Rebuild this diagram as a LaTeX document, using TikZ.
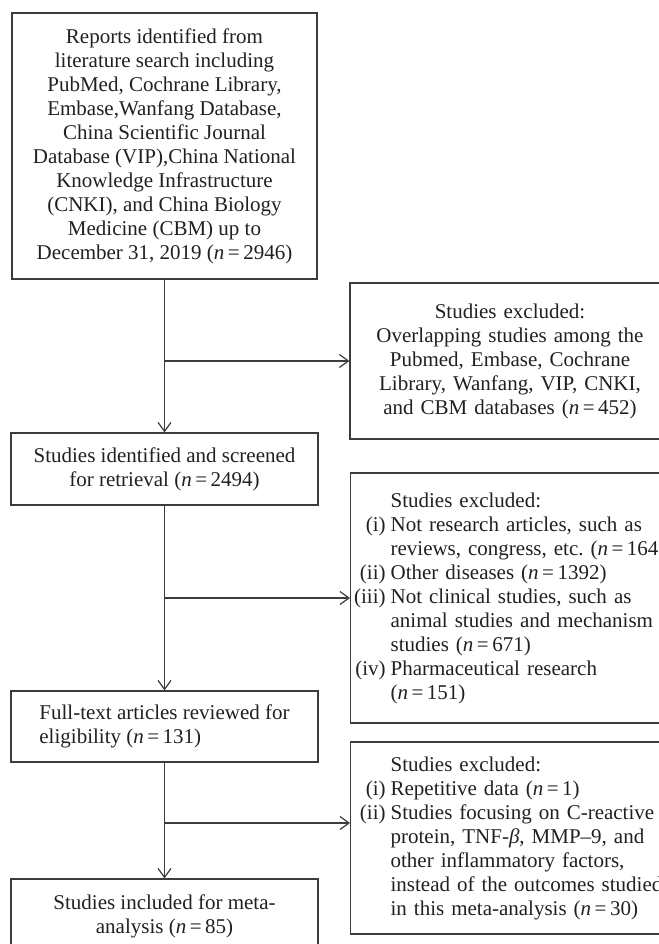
\documentclass[tikz,border=0pt]{standalone}
\usepackage{fontspec}
\setmainfont{Liberation Serif}
\usetikzlibrary{arrows.meta}
\definecolor{linec}{RGB}{60,60,60}
\definecolor{txt}{RGB}{35,31,32}
\newcommand\fsz{\fontsize{21}{24}\selectfont}
\newcommand\itm[1]{\makebox[34pt][r]{#1}\hspace{5pt}}
\newcommand\cnt{\hspace*{39pt}}
\newcommand\nn[1]{(\textit{n}\,=\,#1)}
\begin{document}
\begin{tikzpicture}[x=1pt,y=-1pt,
  box/.style={draw=linec, line width=1.2pt, inner xsep=1pt, inner ysep=0pt, font=\fsz, text=txt},
  arr/.style={draw=linec, line width=1.2pt, -{Straight Barb[length=9pt,width=13pt]}}]
\useasboundingbox (0,0) rectangle (658,944);
\node[box, minimum width=305pt, minimum height=266pt, align=center] (A) at (164.5,146)
 {Reports identified from\\literature search including\\PubMed, Cochrane Library,\\Embase,Wanfang Database,\\China Scientific Journal\\Database (VIP),China National\\Knowledge Infrastructure\\(CNKI), and China Biology\\Medicine (CBM) up to\\December 31, 2019 \nn{2946}};
\node[box, minimum width=307pt, minimum height=72pt, align=center] (B) at (164.5,469)
 {Studies identified and screened\\for retrieval \nn{2494}};
\node[box, minimum width=307pt, minimum height=71pt, align=left] (C) at (164.5,726.5)
 {Full-text articles reviewed for\\eligibility \nn{131}};
\node[box, minimum width=307pt, minimum height=74pt, align=center] (D) at (164.5,916)
 {Studies included for meta-\\analysis \nn{85}};
\node[box, minimum width=320pt, minimum height=156pt, text width=318pt, align=center] (R1) at (510,361)
 {Studies excluded:\\Overlapping studies among the\\Pubmed, Embase, Cochrane\\Library, Wanfang, VIP, CNKI,\\and CBM databases \nn{452}};
\node[box, anchor=west, minimum height=250pt, text width=330pt, align=left] (R2) at (350,598)
 {\cnt Studies excluded:\\
  \itm{(i)}Not research articles, such as\\
  \cnt reviews, congress, etc.\ \nn{164}\\
  \itm{(ii)}Other diseases \nn{1392}\\
  \itm{(iii)}Not clinical studies, such as\\
  \cnt animal studies and mechanism\\
  \cnt studies \nn{671}\\
  \itm{(iv)}Pharmaceutical research\\
  \cnt \nn{151}};
\node[box, anchor=west, minimum height=192pt, text width=330pt, align=left] (R3) at (350,838)
 {\cnt Studies excluded:\\
  \itm{(i)}Repetitive data \nn{1}\\
  \itm{(ii)}Studies focusing on C-reactive\\
  \cnt protein, TNF-\textit{β}, MMP–9, and\\
  \cnt other inflammatory factors,\\
  \cnt instead of the outcomes studied\\
  \cnt in this meta-analysis \nn{30}};
\coordinate (j1) at (164.5,361);
\coordinate (j2) at (164.5,598);
\coordinate (j3) at (164.5,823);
\draw[arr] (A) -- (B);
\draw[arr] (B) -- (C);
\draw[arr] (C) -- (D);
\draw[arr] (j1) -- (j1 -| R1.west);
\draw[arr] (j2) -- (j2 -| R2.west);
\draw[arr] (j3) -- (j3 -| R3.west);
\end{tikzpicture}
\end{document}
